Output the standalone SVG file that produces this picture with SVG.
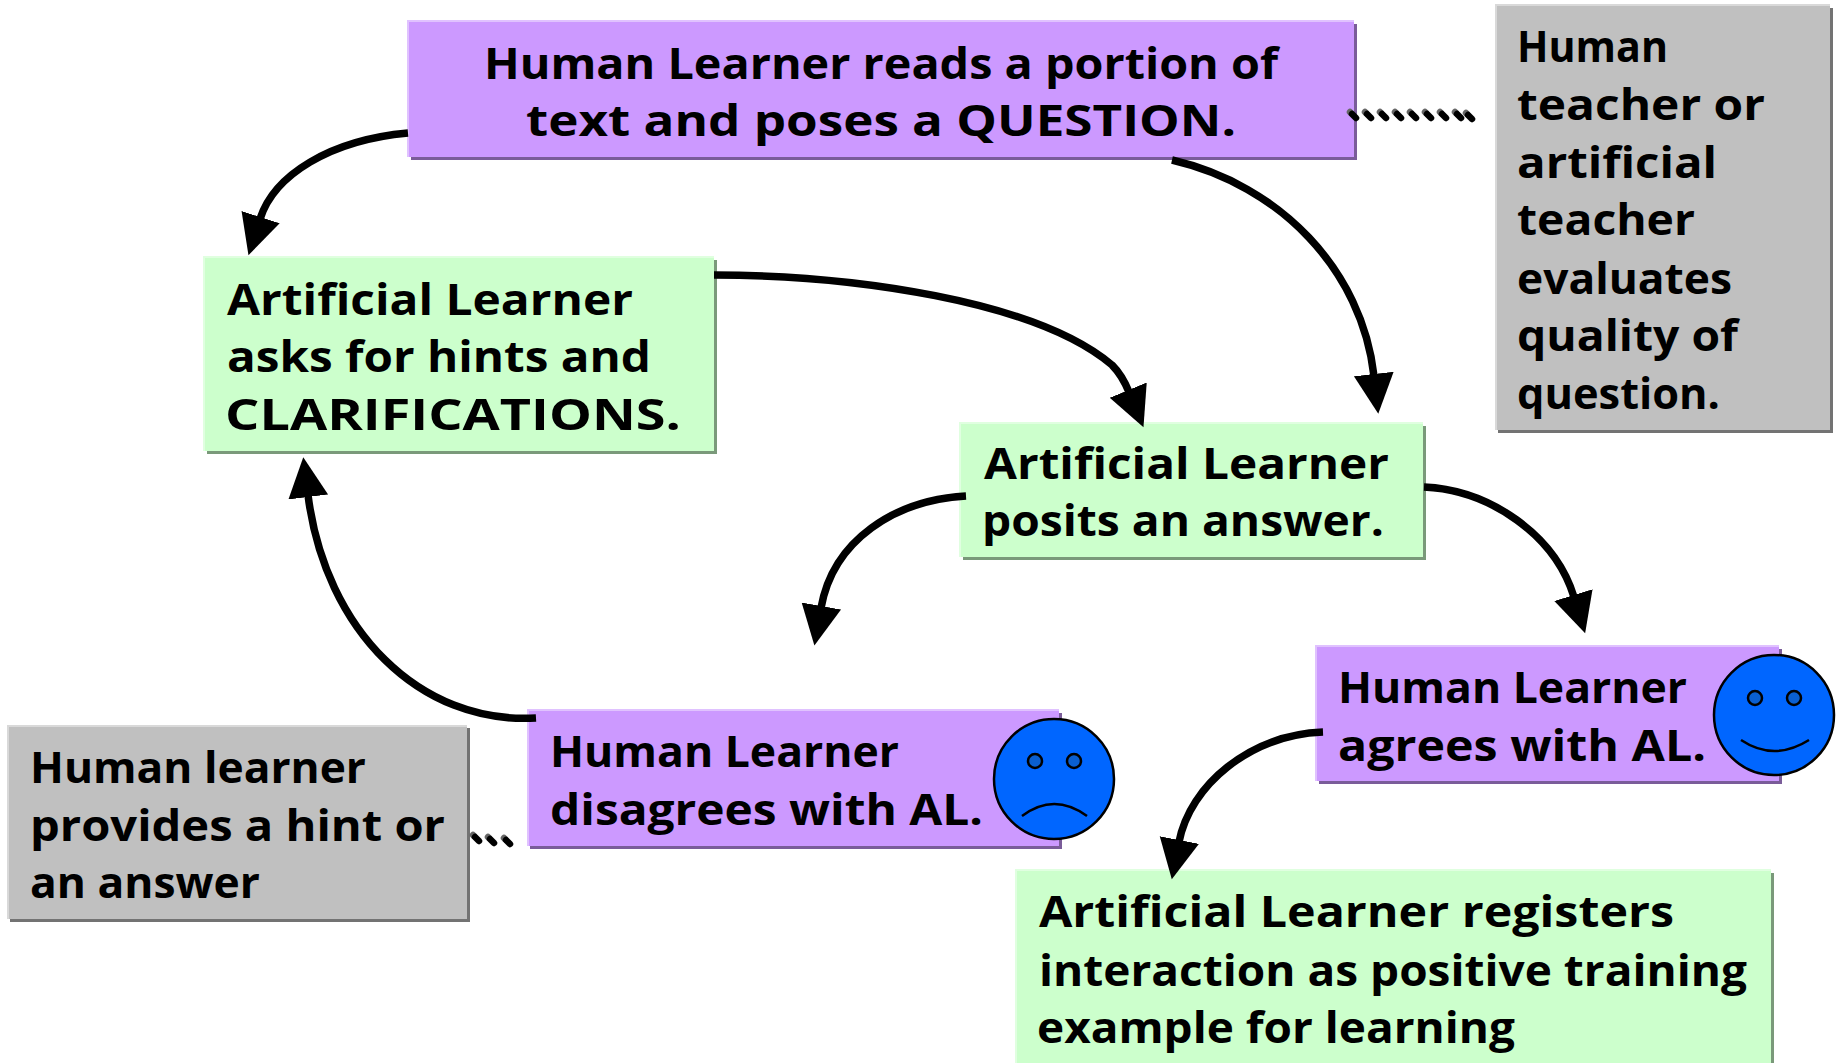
<svg xmlns="http://www.w3.org/2000/svg" xmlns:xlink="http://www.w3.org/1999/xlink" width="1842" height="1063" viewBox="0 0 1842 1063">
<style>
text{font-family:"Open Sans","Noto Sans","DejaVu Sans",sans-serif;font-weight:700;font-size:43px;fill:#000}
.pm{fill:#cc99ff}.ph{fill:#e0c2ff}.ps{fill:#7a5c99}
.gm{fill:#ccffcc}.gh{fill:#e0ffe0}.gs{fill:#7a997a}
.ym{fill:#c0c0c0}.yh{fill:#d9d9d9}.ys{fill:#737373}
.arrow{fill:none;stroke:#000;stroke-width:7.5;marker-end:url(#head)}
.face{fill:#0066ff;stroke:#000;stroke-width:2.5}
.eye{fill:#0a5fd0;stroke:#000;stroke-width:2.5}
.mouth{fill:none;stroke:#000;stroke-width:2.5}
.dg{stroke:#666;stroke-width:6.5;stroke-linecap:round}
.db{stroke:#000;stroke-width:6.5;stroke-linecap:round}
</style>
<defs>
<marker id="head" markerUnits="userSpaceOnUse" markerWidth="48" markerHeight="48" refX="2" refY="22" orient="auto">
<path d="M0 2 L40 22 L0 42 Z" fill="#000"/>
</marker>
<g id="dot"><line class="dg" x1="-3" y1="-3" x2="-2" y2="-2"/><line class="db" x1="-1" y1="-1" x2="3" y2="3"/></g>
</defs>

<g id="top-question">
<rect class="ps" x="411" y="24" width="946" height="136"/><rect class="ph" x="407" y="20" width="947" height="137"/><rect class="pm" x="409" y="22" width="945" height="135"/>
<text x="484" y="79" textLength="794" lengthAdjust="spacingAndGlyphs">Human Learner reads a portion of</text>
<text x="526" y="136" textLength="710" lengthAdjust="spacingAndGlyphs">text and poses a QUESTION.</text>
</g>
<g id="teacher-note">
<rect class="ys" x="1498" y="8" width="335" height="425"/><rect class="yh" x="1495" y="4" width="335" height="426"/><rect class="ym" x="1497" y="6" width="333" height="424"/>
<text x="1517" y="62" textLength="151" lengthAdjust="spacingAndGlyphs">Human</text>
<text x="1517" y="120" textLength="248" lengthAdjust="spacingAndGlyphs">teacher or</text>
<text x="1517" y="178" textLength="200" lengthAdjust="spacingAndGlyphs">artificial</text>
<text x="1517" y="235" textLength="178" lengthAdjust="spacingAndGlyphs">teacher</text>
<text x="1517" y="294" textLength="215" lengthAdjust="spacingAndGlyphs">evaluates</text>
<text x="1517" y="351" textLength="221" lengthAdjust="spacingAndGlyphs">quality of</text>
<text x="1517" y="409" textLength="203" lengthAdjust="spacingAndGlyphs">question.</text>
</g>
<g id="al-clarifications">
<rect class="gs" x="207" y="260" width="510" height="194"/><rect class="gh" x="203" y="256" width="511" height="195"/><rect class="gm" x="205" y="258" width="509" height="193"/>
<text x="227" y="315" textLength="406" lengthAdjust="spacingAndGlyphs">Artificial Learner</text>
<text x="227" y="372" textLength="424" lengthAdjust="spacingAndGlyphs">asks for hints and</text>
<text x="225" y="430" textLength="456" lengthAdjust="spacingAndGlyphs">CLARIFICATIONS.</text>
</g>
<g id="al-answer">
<rect class="gs" x="963" y="426" width="463" height="134"/><rect class="gh" x="959" y="422" width="464" height="135"/><rect class="gm" x="961" y="424" width="462" height="133"/>
<text x="984" y="479" textLength="405" lengthAdjust="spacingAndGlyphs">Artificial Learner</text>
<text x="982" y="536" textLength="402" lengthAdjust="spacingAndGlyphs">posits an answer.</text>
</g>
<g id="hl-disagrees">
<rect class="ps" x="530" y="713" width="532" height="136"/><rect class="ph" x="527" y="709" width="532" height="137"/><rect class="pm" x="529" y="711" width="530" height="135"/>
<text x="550" y="767" textLength="349" lengthAdjust="spacingAndGlyphs">Human Learner</text>
<text x="550" y="825" textLength="433" lengthAdjust="spacingAndGlyphs">disagrees with AL.</text>
<circle class="face" cx="1054" cy="779" r="60"/>
<circle class="eye" cx="1035" cy="761" r="7"/><circle class="eye" cx="1074" cy="761" r="7"/>
<path class="mouth" d="M1022 816 Q1054 792 1087 816"/>
</g>
<g id="hl-agrees">
<rect class="ps" x="1319" y="649" width="463" height="135"/><rect class="ph" x="1315" y="645" width="464" height="136"/><rect class="pm" x="1317" y="647" width="462" height="134"/>
<text x="1338" y="703" textLength="349" lengthAdjust="spacingAndGlyphs">Human Learner</text>
<text x="1338" y="761" textLength="368" lengthAdjust="spacingAndGlyphs">agrees with AL.</text>
<circle class="face" cx="1774" cy="715" r="60"/>
<circle class="eye" cx="1755" cy="698" r="7"/><circle class="eye" cx="1794" cy="698" r="7"/>
<path class="mouth" d="M1741 740 Q1774 762 1809 740"/>
</g>
<g id="learner-note">
<rect class="ys" x="10" y="728" width="460" height="194"/><rect class="yh" x="7" y="725" width="460" height="194"/><rect class="ym" x="9" y="727" width="458" height="192"/>
<text x="30" y="783" textLength="336" lengthAdjust="spacingAndGlyphs">Human learner</text>
<text x="30" y="841" textLength="415" lengthAdjust="spacingAndGlyphs">provides a hint or</text>
<text x="30" y="898" textLength="230" lengthAdjust="spacingAndGlyphs">an answer</text>
</g>
<g id="al-registers">
<rect class="gs" x="1018" y="873" width="756" height="194"/><rect class="gh" x="1015" y="869" width="756" height="195"/><rect class="gm" x="1017" y="871" width="754" height="193"/>
<text x="1039" y="927" textLength="635" lengthAdjust="spacingAndGlyphs">Artificial Learner registers</text>
<text x="1039" y="986" textLength="708" lengthAdjust="spacingAndGlyphs">interaction as positive training</text>
<text x="1037" y="1043" textLength="478" lengthAdjust="spacingAndGlyphs">example for learning</text>
</g>

<g id="connectors">
<path class="arrow" d="M408 133 C330 140 274 175 260 219"/>
<path class="arrow" d="M1172 160 C1280 185 1362 270 1374 376"/>
<path class="arrow" d="M714 275 C850 275 1035 300 1112 365 Q1122 375 1129 392"/>
<path class="arrow" d="M966 496 C895 500 833 540 821 608"/>
<path class="arrow" d="M1424 487 C1490 490 1555 535 1574 597"/>
<path class="arrow" d="M1323 732 C1250 735 1190 785 1179 842"/>
<path class="arrow" d="M536 718 C420 725 325 630 308 495"/>
<g id="dots-top">
<use xlink:href="#dot" x="1353" y="115"/><use xlink:href="#dot" x="1368" y="115"/><use xlink:href="#dot" x="1383" y="115"/><use xlink:href="#dot" x="1398" y="115"/><use xlink:href="#dot" x="1413" y="115"/><use xlink:href="#dot" x="1428" y="115"/><use xlink:href="#dot" x="1443" y="115"/><use xlink:href="#dot" x="1458" y="115"/><use xlink:href="#dot" x="1469" y="116"/>
</g>
<g id="dots-left">
<use xlink:href="#dot" x="476" y="838"/><use xlink:href="#dot" x="491" y="840"/><use xlink:href="#dot" x="507" y="841"/>
</g>
</g>
</svg>
